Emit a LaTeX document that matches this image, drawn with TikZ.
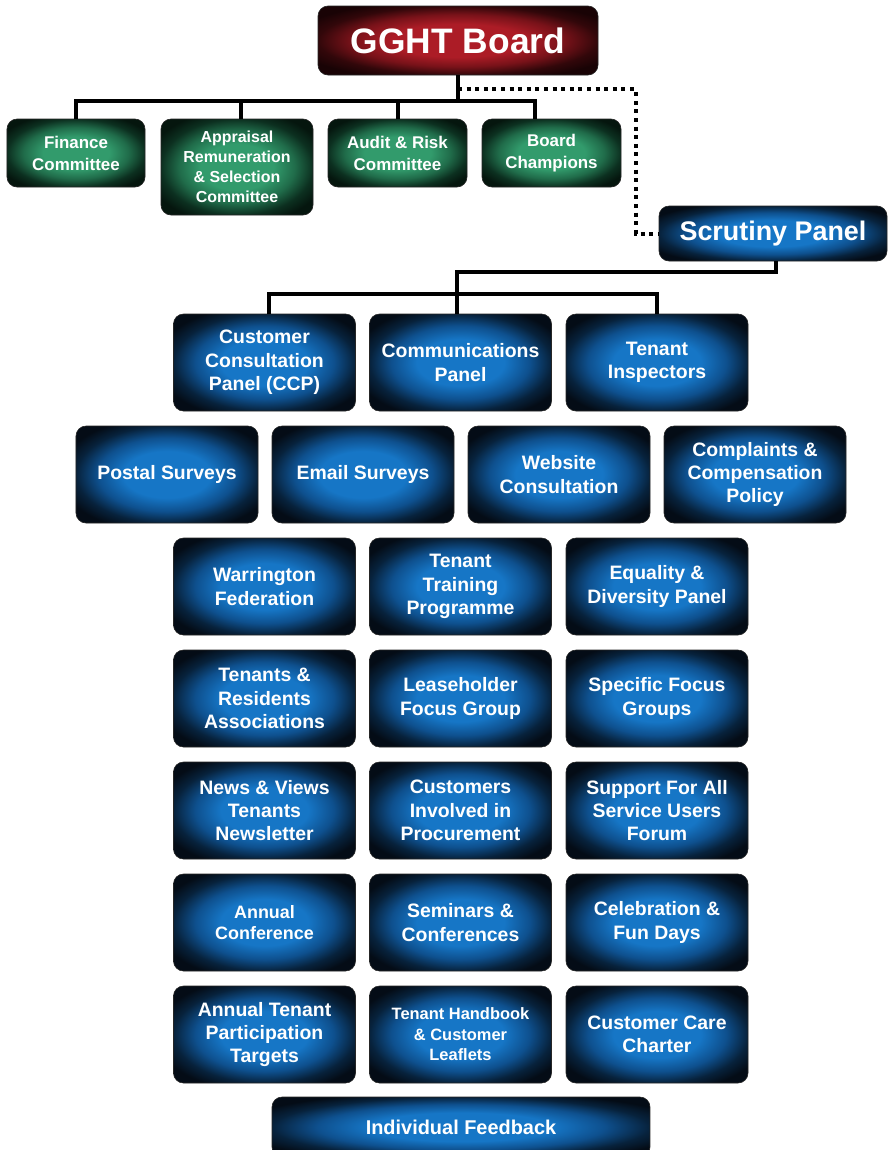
\documentclass[tikz,border=0pt]{standalone}
\usepackage{fontspec}
\setmainfont{Liberation Sans}
\definecolor{bA}{RGB}{22,118,198}
\definecolor{bB}{RGB}{14,80,142}
\definecolor{bC}{RGB}{7,34,60}
\definecolor{bD}{RGB}{4,12,22}
\definecolor{gA}{RGB}{50,155,108}
\definecolor{gB}{RGB}{32,108,74}
\definecolor{gC}{RGB}{12,48,32}
\definecolor{gD}{RGB}{5,22,14}
\definecolor{rA}{RGB}{172,28,38}
\definecolor{rB}{RGB}{120,18,25}
\definecolor{rC}{RGB}{50,7,10}
\definecolor{rD}{RGB}{25,3,5}
\pgfdeclareradialshading{glowblue}{\pgfpoint{0bp}{0bp}}{color(0bp)=(bA); color(12bp)=(bA); color(19bp)=(bB); color(25bp)=(bC); color(30bp)=(bD); color(50bp)=(bD)}
\pgfdeclareradialshading{glowgreen}{\pgfpoint{0bp}{0bp}}{color(0bp)=(gA); color(12bp)=(gA); color(19bp)=(gB); color(25bp)=(gC); color(30bp)=(gD); color(50bp)=(gD)}
\pgfdeclareradialshading{glowred}{\pgfpoint{0bp}{0bp}}{color(0bp)=(rA); color(12bp)=(rA); color(19bp)=(rB); color(25bp)=(rC); color(30bp)=(rD); color(50bp)=(rD)}
\tikzset{
  boxbase/.style={rounded corners=10bp, draw=black!85, line width=0.6bp, inner sep=0pt,
    text=white, align=center, font=\bfseries\fontsize{19.5}{23.5}\selectfont},
  bluebox/.style={boxbase, shading=glowblue},
  greenbox/.style={boxbase, shading=glowgreen, font=\bfseries\fontsize{17}{22}\selectfont},
  redbox/.style={boxbase, shading=glowred},
  b3/.style={bluebox, minimum width=182bp, minimum height=97bp},
  conn/.style={line width=4bp, black, line join=miter},
  dotline/.style={line width=4bp, black, dash pattern=on 4bp off 4.6bp},
  smalltext/.style={font=\bfseries\fontsize{16.5}{20.5}\selectfont},
  midtext/.style={font=\bfseries\fontsize{18}{21.5}\selectfont}
}
\begin{document}
\begin{tikzpicture}[x=1bp,y=-1bp]
\useasboundingbox (0,0) rectangle (888,1150);
\clip (0,0) rectangle (888,1150);
% top
\node[redbox, minimum width=280bp, minimum height=69bp, font=\bfseries\fontsize{35.5}{40}\selectfont] (board) at (458,40.5) {GGHT Board};
\node[greenbox, minimum width=138bp, minimum height=68bp] (fin) at (76,153) {Finance\\Committee};
\node[greenbox, minimum width=152bp, minimum height=96bp, font=\bfseries\fontsize{16}{20}\selectfont] (appr) at (237,167) {Appraisal\\Remuneration\\\& Selection\\Committee};
\node[greenbox, minimum width=139bp, minimum height=68bp] (audit) at (397.5,153) {Audit \& Risk\\Committee};
\node[greenbox, minimum width=139bp, minimum height=68bp] (champ) at (551.5,153) {Board\\Champions};
\node[bluebox, minimum width=228bp, minimum height=55bp, font=\bfseries\fontsize{27}{30}\selectfont] (scrut) at (773,233.5) {Scrutiny Panel};
% row 1
\node[b3] (ccp) at (264.5,362.5) {Customer\\Consultation\\Panel (CCP)};
\node[b3] (comm) at (460.5,362.5) {Communications\\Panel};
\node[b3] (ti) at (657,362.5) {Tenant\\Inspectors};
% row 2
\node[b3] (postal) at (167,474.5) {Postal Surveys};
\node[b3] (email) at (363,474.5) {Email Surveys};
\node[b3] (web) at (559,474.5) {Website\\Consultation};
\node[b3] (compl) at (755,474.5) {Complaints \&\\Compensation\\Policy};
% row 3
\node[b3] (warr) at (264.5,586.5) {Warrington\\Federation};
\node[b3] (train) at (460.5,586.5) {Tenant\\Training\\Programme};
\node[b3] (equal) at (657,586.5) {Equality \&\\Diversity Panel};
% row 4
\node[b3] (tra) at (264.5,698.5) {Tenants \&\\Residents\\Associations};
\node[b3] (lease) at (460.5,698.5) {Leaseholder\\Focus Group};
\node[b3] (focus) at (657,698.5) {Specific Focus\\Groups};
% row 5
\node[b3] (news) at (264.5,810.5) {News \& Views\\Tenants\\Newsletter};
\node[b3] (proc) at (460.5,810.5) {Customers\\Involved in\\Procurement};
\node[b3] (supp) at (657,810.5) {Support For All\\Service Users\\Forum};
% row 6
\node[b3, midtext] (conf) at (264.5,922.5) {Annual\\Conference};
\node[b3] (sem) at (460.5,922.5) {Seminars \&\\Conferences};
\node[b3] (fun) at (657,922.5) {Celebration \&\\Fun Days};
% row 7
\node[b3] (targ) at (264.5,1034.5) {Annual Tenant\\Participation\\Targets};
\node[b3, smalltext] (hand) at (460.5,1034.5) {Tenant Handbook\\\& Customer\\Leaflets};
\node[b3] (charter) at (657,1034.5) {Customer Care\\Charter};
% bottom
\node[bluebox, minimum width=378bp, minimum height=60bp, font=\bfseries\fontsize{20}{24}\selectfont] (indiv) at (461,1127) {Individual Feedback};
% connectors
\coordinate (bus1) at (457,101);
\draw[conn] (board.south) -- (board.south |- bus1);
\draw[conn] (fin.north) |- ([xshift=-17bp]champ.north |- bus1) -- ([xshift=-17bp]champ.north);
\draw[conn] ([xshift=4bp]appr.north) -- ([xshift=4bp]appr.north |- bus1);
\draw[conn] (audit.north) -- (audit.north |- bus1);
\draw[dotline] ([yshift=-14bp]board.south) -| ([xshift=-23bp]scrut.west) -- (scrut.west);
\draw[conn] ([xshift=3bp]scrut.south) -- ++(0,11) -| ([xshift=-4bp]comm.north);
\draw[conn] ([xshift=4bp]ccp.north) -- ++(0,-20) -| (ti.north);
\end{tikzpicture}
\end{document}
